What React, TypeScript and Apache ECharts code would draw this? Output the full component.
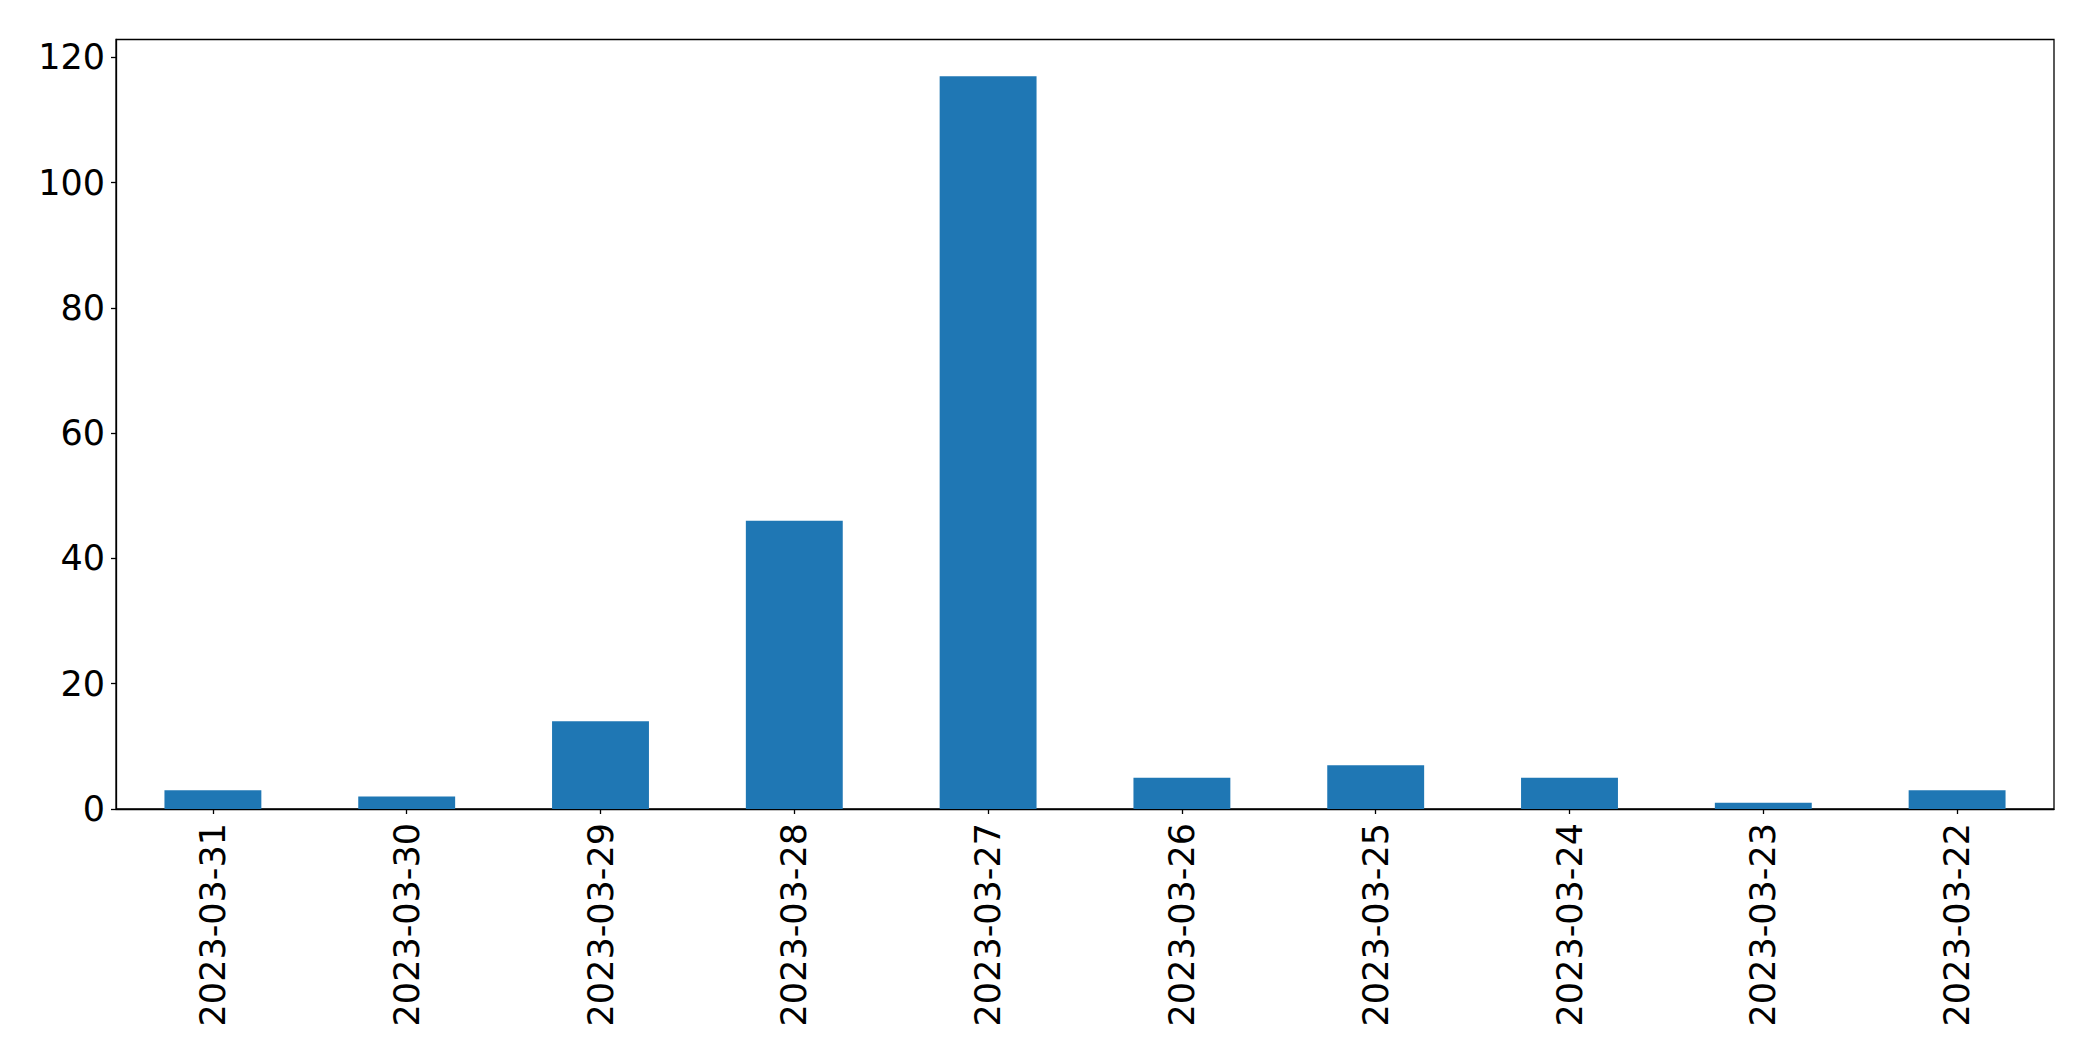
import React, { useEffect, useRef } from "react";
import * as echarts from "echarts";

const categories = [
  "2023-03-31",
  "2023-03-30",
  "2023-03-29",
  "2023-03-28",
  "2023-03-27",
  "2023-03-26",
  "2023-03-25",
  "2023-03-24",
  "2023-03-23",
  "2023-03-22",
];
const values = [3, 2, 14, 46, 117, 5, 7, 5, 1, 3];
const yTicks = [0, 20, 40, 60, 80, 100, 120];
const yMax = 122.85;

export default function App() {
  const ref = useRef<HTMLDivElement>(null);
  useEffect(() => {
    if (!ref.current) return;
    const chart = echarts.init(ref.current, undefined, { renderer: "svg" });
    const font = "DejaVu Sans";
    chart.setOption({
      animation: false,
      backgroundColor: "#ffffff",
      grid: {
        left: 116,
        right: 39,
        top: 39.5,
        bottom: 252,
        show: true,
        borderColor: "#000000",
        borderWidth: 1.3,
        backgroundColor: "transparent",
      },
      xAxis: {
        type: "category",
        data: categories,
        boundaryGap: true,
        axisLine: { show: true, lineStyle: { color: "#000", width: 1.3 } },
        axisTick: { show: true, alignWithLabel: true, length: 5, lineStyle: { color: "#000", width: 1.3 } },
        axisLabel: {
          rotate: 90,
          margin: 14,
          color: "#000",
          fontFamily: font,
          fontSize: 35,
        },
        splitLine: { show: false },
      },
      yAxis: {
        type: "value",
        min: 0,
        max: yMax,
        interval: 20,
        axisLine: { show: true, lineStyle: { color: "#000", width: 1.3 } },
        axisTick: {
          show: true,
          length: 5,
          customValues: yTicks,
          lineStyle: { color: "#000", width: 1.3 },
        },
        axisLabel: {
          customValues: yTicks,
          margin: 11,
          color: "#000",
          fontFamily: font,
          fontSize: 35,
        },
        splitLine: { show: false },
      },
      series: [
        {
          type: "bar",
          data: values,
          barWidth: "50%",
          itemStyle: { color: "#1f77b4" },
        },
      ],
    });
    return () => chart.dispose();
  }, []);
  return <div ref={ref} style={{ width: 2093, height: 1061, position: "absolute", left: 0, top: 0 }} />;
}
